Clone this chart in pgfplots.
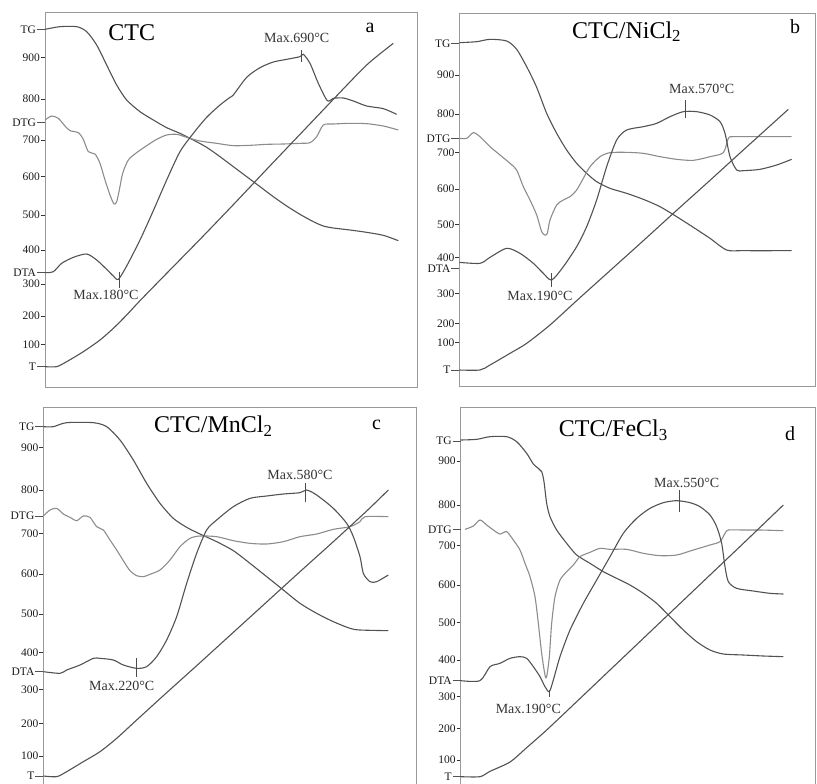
\documentclass[border=0pt]{standalone}
\usepackage{pgfplots}
\pgfplotsset{compat=1.18}
\usepackage{fontspec}
\setmainfont{Liberation Serif}
\definecolor{crvc}{gray}{0.32}
\definecolor{dtgc}{gray}{0.55}
\definecolor{frc}{gray}{0.6}
\pgfplotsset{panel/.style={x=0.333333pt, y=0.333333pt, y dir=reverse, anchor=north west,
  axis line style={draw=frc, line width=0.8pt}, xtick=\empty, ytick pos=left, tick align=outside,
  major tick length=4pt, tick style={draw=black!80, line width=0.9pt},
  yticklabel style={font=\fontsize{11.5}{11.5}\selectfont, text=black!90, inner sep=0.8pt},
  extra y tick style={major tick length=8pt, tick style={draw=crvc, line width=1pt}},
  clip=false},
  crv/.style={line width=1.1pt, draw=crvc, smooth, tension=0.45, mark=none},
  dtg/.style={line width=1.1pt, draw=dtgc, smooth, tension=0.45, mark=none},
  mk/.style={line width=0.8pt, draw=black!70, mark=none},
}
\tikzset{ann/.style={font=\fontsize{14}{14}\selectfont, text=black!80},
  ttl/.style={font=\fontsize{24}{24}\selectfont},
  lett/.style={font=\fontsize{20}{20}\selectfont}}
\begin{document}
\begin{tikzpicture}
\path[use as bounding box] (0,0) rectangle (817pt,-784pt);
% ---------------- panel a
\begin{axis}[panel, at={(45pt,-12.667pt)}, xmin=135, xmax=1253, ymin=38, ymax=1163,
  ytick={172,297,420,530,645,750,852,948,1033},
  yticklabels={900,800,700,600,500,400,300,200,100},
  extra y ticks={88,368,818,1100}, extra y tick labels={TG,DTG,DTA,T}]
\addplot[crv] coordinates {(135,88) (180,80) (230,80) (260,95) (290,135) (320,195) (350,255) (380,300) (420,335) (460,360) (500,383) (540,400) (580,420) (620,442) (660,470) (700,500) (740,530) (780,560) (820,590) (860,618) (900,643) (940,665) (970,678) (1000,684) (1050,690) (1100,697) (1150,706) (1195,722)};
\addplot[dtg] coordinates {(135,360) (155,348) (175,355) (195,378) (210,392) (235,398) (250,418) (265,455) (285,462) (300,490) (315,540) (330,585) (342,612) (350,605) (358,570) (368,520) (385,480) (410,458) (440,437) (470,418) (500,405) (530,403) (560,412) (600,423) (650,430) (700,437) (750,436) (800,433) (850,432) (900,430) (930,428) (950,410) (970,375) (1000,372) (1050,370) (1100,371) (1150,378) (1195,390)};
\addplot[crv] coordinates {(135,818) (160,815) (185,790) (220,772) (260,762) (290,780) (320,808) (340,828) (355,838) (380,798) (420,720) (460,632) (500,540) (540,455) (580,400) (620,352) (660,315) (690,292) (700,285) (740,232) (780,203) (820,186) (860,178) (900,170) (910,163) (930,190) (955,250) (982,302) (1000,295) (1030,294) (1060,303) (1100,318) (1150,326) (1190,343)};
\addplot[crv] coordinates {(135,1100) (170,1100) (200,1085) (250,1055) (300,1020) (340,985) (380,945) (420,902) (500,820) (600,718) (700,614) (800,508) (900,403) (1000,298) (1100,195) (1180,130)};
\addplot[mk] coordinates {(905,150) (905,185)};
\addplot[mk] coordinates {(357,815) (357,865)};
\node[ann] at (axis cs:890,115) {Max.690°C};
\node[ann] at (axis cs:318,885) {Max.180°C};
\node[ttl] at (axis cs:395,97) {CTC};
\node[lett] at (axis cs:1110,85) {a};
\end{axis}
% ---------------- panel b
\begin{axis}[panel, at={(459.333pt,-13.333pt)}, xmin=148, xmax=1215, ymin=40, ymax=1158,
  ytick={225,342,458,567,673,772,880,970,1028},
  yticklabels={900,800,700,600,500,400,300,200,100},
  extra y ticks={130,415,805,1110}, extra y tick labels={TG,DTG,DTA,T}]
\addplot[crv] coordinates {(148,128) (200,125) (240,118) (290,123) (320,148) (350,200) (380,262) (410,340) (440,400) (470,450) (500,490) (530,520) (560,545) (600,565) (650,580) (700,598) (750,620) (800,650) (850,682) (900,715) (950,750) (1000,752) (1145,752)};
\addplot[dtg] coordinates {(148,415) (170,415) (190,398) (210,410) (240,440) (270,465) (300,490) (320,510) (340,560) (360,600) (380,645) (395,695) (405,705) (412,700) (420,660) (440,615) (460,600) (480,590) (500,570) (520,535) (540,500) (570,470) (600,458) (650,457) (700,460) (750,470) (800,478) (850,481) (900,470) (940,458) (955,415) (970,410) (1050,410) (1145,410)};
\addplot[crv] coordinates {(148,787) (210,790) (240,772) (290,745) (330,760) (370,790) (400,820) (425,840) (460,800) (500,740) (530,680) (560,600) (590,500) (620,420) (650,390) (700,380) (740,370) (780,350) (820,335) (860,335) (900,345) (930,365) (945,400) (960,470) (980,510) (1000,512) (1050,508) (1100,495) (1145,478)};
\addplot[crv] coordinates {(148,1110) (210,1110) (240,1095) (300,1060) (350,1030) (420,975) (500,902) (600,812) (700,722) (800,631) (900,541) (1000,450) (1135,328)};
\addplot[mk] coordinates {(825,300) (825,355)};
\addplot[mk] coordinates {(425,820) (425,860)};
\node[ann] at (axis cs:875,268) {Max.570°C};
\node[ann] at (axis cs:390,888) {Max.190°C};
\node[ttl] at (axis cs:650,95) {CTC/NiCl\textsubscript{2}};
\node[lett] at (axis cs:1155,80) {b};
\end{axis}
% ---------------- panel c
\begin{axis}[panel, at={(43.333pt,-407.333pt)}, xmin=130, xmax=1250, ymin=52, ymax=1210,
  ytick={172,300,430,552,672,788,898,1000,1098},
  yticklabels={900,800,700,600,500,400,300,200,100},
  extra y ticks={110,378,845,1158}, extra y tick labels={TG,DTG,DTA,T}]
\addplot[crv] coordinates {(130,110) (160,110) (200,98) (280,98) (320,110) (360,150) (400,210) (440,280) (480,340) (520,385) (560,412) (600,432) (650,455) (700,482) (750,520) (800,560) (850,600) (900,640) (950,670) (1000,695) (1050,715) (1080,720) (1165,722)};
\addplot[dtg] coordinates {(130,378) (150,360) (170,355) (190,372) (210,382) (230,392) (250,378) (270,382) (290,410) (310,420) (330,450) (350,480) (370,512) (390,542) (410,557) (430,560) (450,553) (480,540) (510,510) (540,470) (570,445) (600,438) (650,440) (700,452) (750,460) (800,462) (850,455) (900,440) (950,432) (1000,418) (1050,410) (1080,395) (1095,380) (1165,380)};
\addplot[crv] coordinates {(130,845) (180,850) (200,840) (240,825) (280,805) (300,805) (340,810) (370,825) (410,835) (440,830) (470,800) (500,750) (530,680) (560,580) (590,490) (620,420) (650,390) (700,350) (750,325) (800,318) (850,312) (900,308) (920,300) (950,315) (1000,355) (1040,400) (1060,440) (1080,500) (1090,550) (1110,575) (1130,575) (1165,555)};
\addplot[crv] coordinates {(130,1158) (170,1160) (200,1145) (250,1115) (300,1085) (350,1045) (410,990) (500,908) (600,818) (700,727) (800,636) (900,545) (1000,455) (1100,363) (1165,300)};
\addplot[mk] coordinates {(915,280) (915,335)};
\addplot[mk] coordinates {(408,805) (408,860)};
\node[ann] at (axis cs:900,255) {Max.580°C};
\node[ann] at (axis cs:365,888) {Max.220°C};
\node[ttl] at (axis cs:640,108) {CTC/MnCl\textsubscript{2}};
\node[lett] at (axis cs:1130,105) {c};
\end{axis}
% ---------------- panel d
\begin{axis}[panel, at={(460.667pt,-407.333pt)}, xmin=152, xmax=1215, ymin=52, ymax=1210,
  ytick={213,345,467,585,698,810,920,1015,1110},
  yticklabels={900,800,700,600,500,400,300,200,100},
  extra y ticks={153,418,872,1160}, extra y tick labels={TG,DTG,DTA,T}]
\addplot[crv] coordinates {(152,150) (200,148) (240,140) (290,140) (320,155) (350,190) (370,222) (385,235) (395,245) (402,275) (410,340) (420,380) (440,420) (470,460) (500,495) (540,520) (580,545) (620,565) (660,585) (700,610) (740,640) (780,680) (820,720) (860,755) (900,780) (940,792) (1000,795) (1060,798) (1120,800)};
\addplot[dtg] coordinates {(165,418) (190,408) (210,390) (230,405) (250,420) (270,432) (290,425) (310,450) (330,480) (345,520) (360,560) (375,620) (385,700) (395,790) (405,855) (410,860) (418,800) (425,700) (435,620) (450,570) (470,545) (490,525) (510,500) (540,487) (570,475) (600,478) (650,478) (700,490) (750,497) (800,495) (850,480) (900,465) (930,455) (945,430) (955,420) (1000,420) (1050,420) (1120,422)};
\addplot[crv] coordinates {(152,872) (210,872) (240,830) (270,820) (300,805) (330,800) (350,805) (370,830) (390,860) (405,890) (418,905) (430,870) (450,800) (480,720) (520,640) (560,570) (600,500) (640,430) (680,385) (720,355) (760,338) (800,332) (840,338) (870,350) (900,375) (920,410) (935,460) (945,530) (955,575) (980,595) (1030,603) (1080,610) (1120,612)};
\addplot[crv] coordinates {(152,1160) (210,1160) (240,1144) (300,1116) (350,1073) (410,1020) (500,935) (600,840) (700,745) (800,650) (900,555) (1000,460) (1120,345)};
\addplot[mk] coordinates {(808,300) (808,365)};
\addplot[mk] coordinates {(418,900) (418,920)};
\node[ann] at (axis cs:830,280) {Max.550°C};
\node[ann] at (axis cs:355,958) {Max.190°C};
\node[ttl] at (axis cs:610,120) {CTC/FeCl\textsubscript{3}};
\node[lett] at (axis cs:1140,130) {d};
\end{axis}
\end{tikzpicture}
\end{document}
